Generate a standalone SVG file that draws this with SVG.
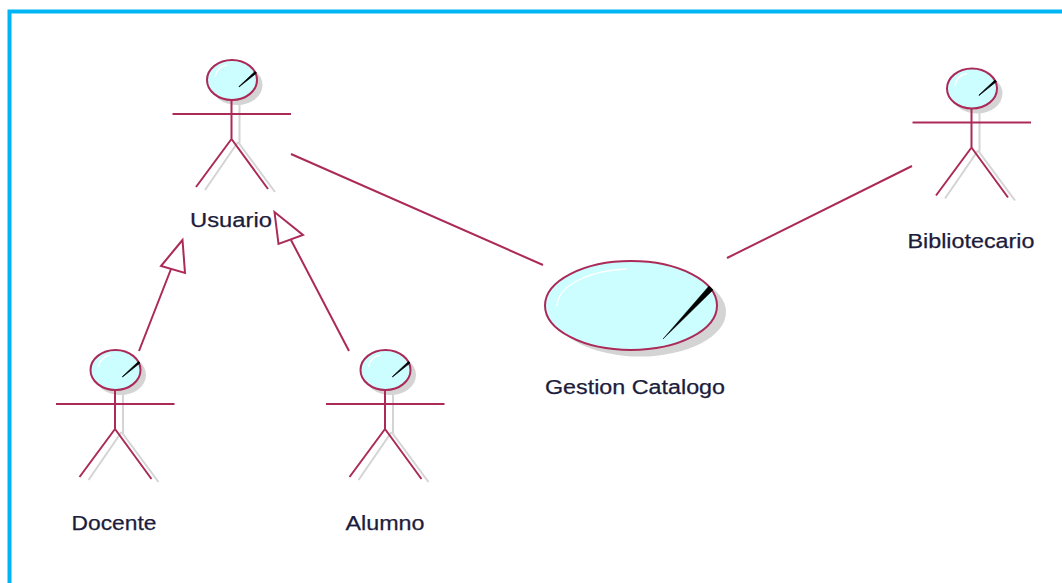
<svg xmlns="http://www.w3.org/2000/svg" width="1062" height="583" viewBox="0 0 1062 583">
<style>
.m{fill:none;stroke:#ab2a58;stroke-width:2}
.s{fill:none;stroke:#d4d4d4;stroke-width:2}
.f{fill:#ccfdff;stroke:#ab2a58;stroke-width:2}
.h{fill:none;stroke:#fff;stroke-width:1.400}
.t{font-family:"Liberation Sans",Arial,sans-serif;font-size:20px;fill:#1c1c3c;stroke:#1c1c3c;stroke-width:.25;text-anchor:middle}
.tri{fill:#fff;stroke:#ab2a58;stroke-width:2}
</style>
<defs>
<g id="actor">
<ellipse cx="5" cy="5" rx="25.500" ry="20" fill="#d4d4d4"/>
<path class="s" d="M7.500 20V63M6 62L-27 110M6 62L43 112"/>
<ellipse class="f" cx="0" cy="0" rx="25" ry="20"/>
<path class="h" d="M-17 -3C-16 -10-11-14-5-15"/>
<path d="M7 6.500L23-8.500 24.500-7 7 7Z" fill="#000" stroke="#000" stroke-width=".7"/>
<path class="m" d="M-59.500 34H59M-.5 20V59M-.5 59L-36 107M-.5 59L36 109"/>
</g>
</defs>
<rect x="9.500" y="11.500" width="1060" height="580" fill="#fff" stroke="#00b5f5" stroke-width="4"/>
<g id="connectors">
<path class="m" d="M291 154L543 265M727 258L912 166M139 351L171 269M349 351L291 240"/>
<path class="tri" d="M274.500 212L278.500 244 303 235Z"/>
<path class="tri" d="M182.500 240L161 266 185 273Z"/>
</g>
<g id="usuario"><use href="#actor" x="232" y="80"/><text class="t" x="231" y="227" textLength="82" lengthAdjust="spacingAndGlyphs">Usuario</text></g>
<g id="docente"><use href="#actor" x="115.500" y="370"/><text class="t" x="114" y="530" textLength="85" lengthAdjust="spacingAndGlyphs">Docente</text></g>
<g id="alumno"><use href="#actor" x="385.500" y="370"/><text class="t" x="385" y="530" textLength="79" lengthAdjust="spacingAndGlyphs">Alumno</text></g>
<g id="bibliotecario"><use href="#actor" x="972" y="88.500"/><text class="t" x="971" y="248" textLength="127" lengthAdjust="spacingAndGlyphs">Bibliotecario</text></g>
<g id="gestion-catalogo">
<ellipse cx="640" cy="312" rx="86" ry="44.500" fill="#d4d4d4"/>
<ellipse class="f" cx="631" cy="305.500" rx="86" ry="44.500"/>
<path class="h" d="M557 306C558 285 590 270 627 269"/>
<path d="M663 339L709 286 713 290Z" fill="#000" stroke="#000" stroke-width=".5"/>
<text class="t" x="635" y="394" textLength="180" lengthAdjust="spacingAndGlyphs">Gestion Catalogo</text>
</g>
</svg>
